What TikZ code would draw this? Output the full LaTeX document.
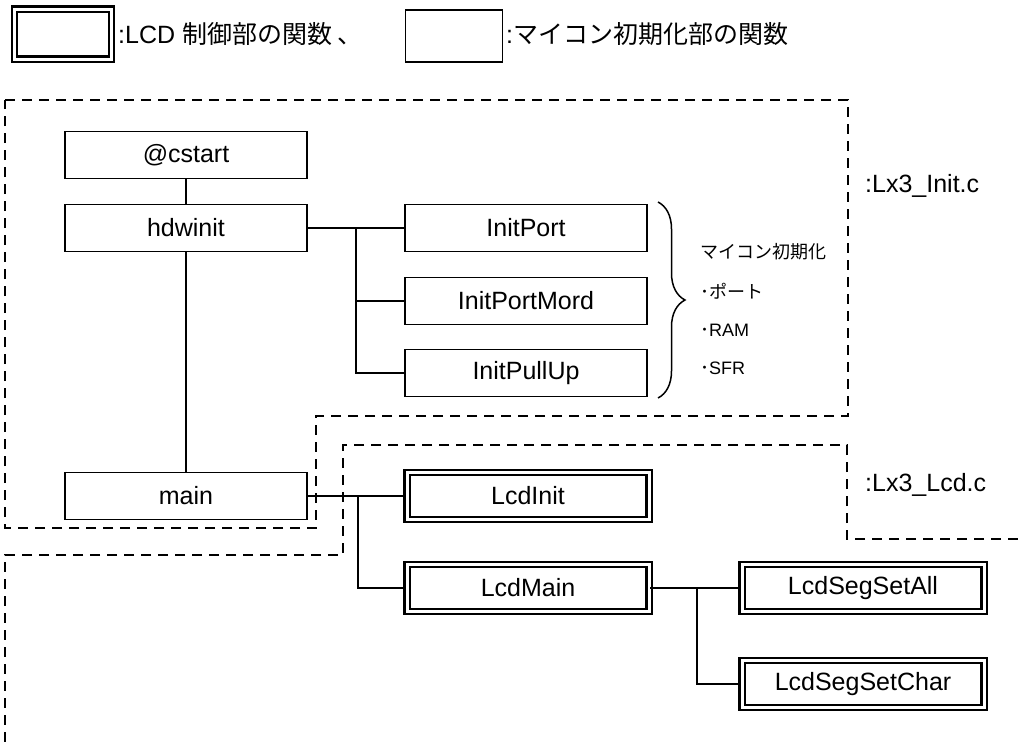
\documentclass[tikz,border=0pt]{standalone}
\usepackage{fontspec}
\setmainfont{Liberation Sans}
\newfontfamily\jpfont{Noto Sans CJK JP}
\usepackage{tikz}
\usetikzlibrary{positioning,decorations.pathreplacing}
\newcommand{\boxfont}{\fontsize{25}{29}\selectfont}
\newcommand{\notefont}{\fontsize{18}{22}\selectfont}

\begin{document}
\begin{tikzpicture}[x=1pt,y=-1pt,on grid,
        fn/.style={draw, line width=1.6pt, minimum width=242pt, minimum height=47pt, inner sep=0pt, font=\boxfont},
        lcdfn/.style={fn, double, line width=2.1pt, double distance=3pt},
        link/.style={line width=1.4pt},
        region/.style={line width=2.5pt, dash pattern=on 10pt off 7pt}]
        \useasboundingbox (0,0) rectangle (1018,748);
        % legend
        \node[lcdfn, minimum width=97pt, minimum height=50pt] (keylcd) at (63,34) {};
        \node[anchor=west, font=\boxfont, inner sep=0pt] (keylcdtxt) at (118,34) {:LCD {\jpfont 制御部の関数 、}};
        \node[fn, minimum width=97pt, minimum height=52pt] (keyinit) at (454,36) {};
        \node[anchor=west, font=\boxfont, inner sep=0pt] (keyinittxt) at (506,34) {:{\jpfont マイコン初期化部の関数}};
        % file regions
        \draw[region] (5,100) -- (848,100) -- (848,416) -- (316,416) -- (316,528) -- (5,528) -- cycle;
        \draw[region] (1018,539) -- (847,539) -- (847,445) -- (343,445) -- (343,555) -- (5,555) -- (5,748);
        \node[anchor=west, font=\boxfont, inner sep=0pt] (initfile) at (865,186) {:Lx3\_Init.c};
        \node[anchor=west, font=\boxfont, inner sep=0pt] (lcdfile) at (865,485) {:Lx3\_Lcd.c};
        % functions
        \node[fn] (cstart) at (186,155) {@cstart};
        \node[fn] (hdwinit) [below=73pt of cstart] {hdwinit};
        \node[fn] (main) [below=268pt of hdwinit] {main};
        \node[fn] (initport) [right=340pt of hdwinit] {InitPort};
        \node[fn] (initmord) [below=73pt of initport] {InitPortMord};
        \node[fn] (initpull) [below=72pt of initmord] {InitPullUp};
        \node[lcdfn] (lcdinit) [right=342pt of main] {LcdInit};
        \node[lcdfn] (lcdmain) [below=92pt of lcdinit] {LcdMain};
        \node[lcdfn] (segall) [right=335pt of lcdmain] {LcdSegSetAll};
        \node[lcdfn] (segchar) [below=96pt of segall] {LcdSegSetChar};
        % calls
        \coordinate (initbus) at (356,228);
        \coordinate (mainbus) at (358,496);
        \coordinate (segbus) at (697,588);
        \draw[link] (cstart) -- (hdwinit);
        \draw[link] (hdwinit) -- (main);
        \draw[link] (hdwinit.east) -- (initport.west);
        \draw[link] (initbus) |- (initmord.west);
        \draw[link] (initbus) |- (initpull.west);
        \draw[link] (main.east) -- (lcdinit.west);
        \draw[link] (mainbus) |- (lcdmain.west);
        \draw[link] (lcdmain.east) -- (segall.west);
        \draw[link] (segbus) |- (segchar.west);
        % note
        \coordinate (bracetop) at (658,202);
        \coordinate (bracebot) at (658,398);
        \draw[line width=1.5pt, decorate, decoration={brace, amplitude=27pt}] (bracetop) -- (bracebot);
        \node[anchor=west, font=\notefont\jpfont, inner sep=0pt] (note1) at (700,252) {マイコン初期化};
        \node[anchor=west, font=\notefont, inner sep=0pt] (note2) at (700,291) {{\jpfont ･ポート}};
        \node[anchor=west, font=\notefont, inner sep=0pt] (note3) at (700,330) {{\jpfont ･}RAM};
        \node[anchor=west, font=\notefont, inner sep=0pt] (note4) at (700,368) {{\jpfont ･}SFR};
\end{tikzpicture}
\end{document}
